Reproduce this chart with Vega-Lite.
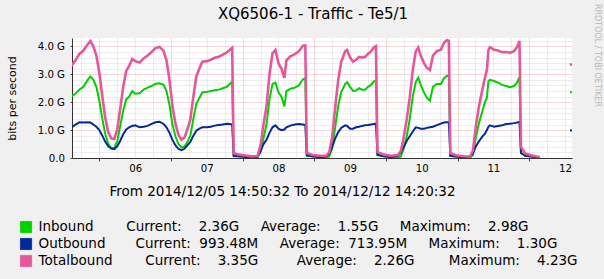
{
  "$schema": "https://vega.github.io/schema/vega-lite/v6.json",
  "width": 500,
  "height": 120,
  "autosize": {"type": "none"},
  "padding": {"left": 72, "top": 38, "right": 32, "bottom": 121},
  "background": "#f0f0f0",
  "config": {
    "font": "DejaVu Sans",
    "view": {"fill": "#ffffff", "stroke": null}
  },
  "title": {
    "text": "XQ6506-1 - Traffic - Te5/1",
    "font": "DejaVu Sans",
    "fontSize": 15,
    "fontWeight": "normal",
    "color": "#000000",
    "offset": -18.5,
    "dx": -9
  },
  "data": {
    "values": [
      {"hour": 14.833, "Inbound": 2.22, "Outbound": 1.10, "Totalbound": 3.33, "seg": "a"},
      {"hour": 16, "Inbound": 2.30, "Outbound": 1.20, "Totalbound": 3.50, "seg": "a"},
      {"hour": 17.333, "Inbound": 2.45, "Outbound": 1.28, "Totalbound": 3.73, "seg": "a"},
      {"hour": 18.667, "Inbound": 2.55, "Outbound": 1.27, "Totalbound": 3.85, "seg": "a"},
      {"hour": 20, "Inbound": 2.78, "Outbound": 1.28, "Totalbound": 4.06, "seg": "a"},
      {"hour": 21, "Inbound": 2.92, "Outbound": 1.27, "Totalbound": 4.19, "seg": "a"},
      {"hour": 22, "Inbound": 2.80, "Outbound": 1.20, "Totalbound": 4.00, "seg": "a"},
      {"hour": 23, "Inbound": 2.55, "Outbound": 1.12, "Totalbound": 3.67, "seg": "a"},
      {"hour": 24, "Inbound": 2.05, "Outbound": 1.00, "Totalbound": 3.05, "seg": "a"},
      {"hour": 25, "Inbound": 1.40, "Outbound": 0.80, "Totalbound": 2.20, "seg": "a"},
      {"hour": 26, "Inbound": 0.85, "Outbound": 0.58, "Totalbound": 1.43, "seg": "a"},
      {"hour": 27, "Inbound": 0.50, "Outbound": 0.42, "Totalbound": 0.92, "seg": "a"},
      {"hour": 28, "Inbound": 0.36, "Outbound": 0.34, "Totalbound": 0.70, "seg": "a"},
      {"hour": 29, "Inbound": 0.36, "Outbound": 0.32, "Totalbound": 0.68, "seg": "a"},
      {"hour": 30, "Inbound": 0.60, "Outbound": 0.42, "Totalbound": 1.02, "seg": "a"},
      {"hour": 31, "Inbound": 1.15, "Outbound": 0.62, "Totalbound": 1.77, "seg": "a"},
      {"hour": 32, "Inbound": 1.70, "Outbound": 0.85, "Totalbound": 2.55, "seg": "a"},
      {"hour": 33, "Inbound": 2.10, "Outbound": 1.02, "Totalbound": 3.12, "seg": "a"},
      {"hour": 34, "Inbound": 2.20, "Outbound": 1.10, "Totalbound": 3.30, "seg": "a"},
      {"hour": 35, "Inbound": 2.40, "Outbound": 1.15, "Totalbound": 3.55, "seg": "a"},
      {"hour": 36, "Inbound": 2.30, "Outbound": 1.17, "Totalbound": 3.47, "seg": "a"},
      {"hour": 37.5, "Inbound": 2.32, "Outbound": 1.10, "Totalbound": 3.42, "seg": "a"},
      {"hour": 38.833, "Inbound": 2.45, "Outbound": 1.12, "Totalbound": 3.57, "seg": "a"},
      {"hour": 40.167, "Inbound": 2.52, "Outbound": 1.15, "Totalbound": 3.67, "seg": "a"},
      {"hour": 41.5, "Inbound": 2.58, "Outbound": 1.22, "Totalbound": 3.80, "seg": "a"},
      {"hour": 42.833, "Inbound": 2.66, "Outbound": 1.28, "Totalbound": 3.94, "seg": "a"},
      {"hour": 44.167, "Inbound": 2.68, "Outbound": 1.30, "Totalbound": 3.98, "seg": "a"},
      {"hour": 45.5, "Inbound": 2.62, "Outbound": 1.22, "Totalbound": 3.84, "seg": "a"},
      {"hour": 46.5, "Inbound": 2.40, "Outbound": 1.10, "Totalbound": 3.50, "seg": "a"},
      {"hour": 47.5, "Inbound": 1.90, "Outbound": 0.90, "Totalbound": 2.80, "seg": "a"},
      {"hour": 48.5, "Inbound": 1.20, "Outbound": 0.65, "Totalbound": 1.85, "seg": "a"},
      {"hour": 49.5, "Inbound": 0.78, "Outbound": 0.45, "Totalbound": 1.23, "seg": "a"},
      {"hour": 50.5, "Inbound": 0.50, "Outbound": 0.33, "Totalbound": 0.83, "seg": "a"},
      {"hour": 51.5, "Inbound": 0.38, "Outbound": 0.28, "Totalbound": 0.66, "seg": "a"},
      {"hour": 52.5, "Inbound": 0.40, "Outbound": 0.33, "Totalbound": 0.73, "seg": "a"},
      {"hour": 53.5, "Inbound": 0.58, "Outbound": 0.45, "Totalbound": 1.03, "seg": "a"},
      {"hour": 54.5, "Inbound": 0.80, "Outbound": 0.58, "Totalbound": 1.38, "seg": "a"},
      {"hour": 55.5, "Inbound": 1.40, "Outbound": 0.80, "Totalbound": 2.20, "seg": "a"},
      {"hour": 56.5, "Inbound": 1.95, "Outbound": 0.98, "Totalbound": 2.93, "seg": "a"},
      {"hour": 57.5, "Inbound": 2.15, "Outbound": 1.05, "Totalbound": 3.20, "seg": "a"},
      {"hour": 58.5, "Inbound": 2.35, "Outbound": 1.10, "Totalbound": 3.45, "seg": "a"},
      {"hour": 60, "Inbound": 2.37, "Outbound": 1.10, "Totalbound": 3.47, "seg": "a"},
      {"hour": 61.333, "Inbound": 2.40, "Outbound": 1.12, "Totalbound": 3.52, "seg": "a"},
      {"hour": 62.667, "Inbound": 2.43, "Outbound": 1.16, "Totalbound": 3.59, "seg": "a"},
      {"hour": 64, "Inbound": 2.45, "Outbound": 1.18, "Totalbound": 3.63, "seg": "a"},
      {"hour": 65.333, "Inbound": 2.50, "Outbound": 1.20, "Totalbound": 3.70, "seg": "a"},
      {"hour": 66.667, "Inbound": 2.55, "Outbound": 1.23, "Totalbound": 3.78, "seg": "a"},
      {"hour": 67.667, "Inbound": 2.65, "Outbound": 1.22, "Totalbound": 3.87, "seg": "a"},
      {"hour": 68.5, "Inbound": 2.75, "Outbound": 1.20, "Totalbound": 3.95, "seg": "a"},
      {"hour": 69, "Inbound": 0.10, "Outbound": 0.07, "Totalbound": 0.17, "seg": "a"},
      {"hour": 71, "Inbound": 0.07, "Outbound": 0.05, "Totalbound": 0.12, "seg": "a"},
      {"hour": 73, "Inbound": 0.05, "Outbound": 0.04, "Totalbound": 0.09, "seg": "a"},
      {"hour": 75, "Inbound": 0.03, "Outbound": 0.03, "Totalbound": 0.06, "seg": "a"},
      {"hour": 77, "Inbound": 0.03, "Outbound": 0.04, "Totalbound": 0.07, "seg": "a"},
      {"hour": 78, "Inbound": 0.20, "Outbound": 0.25, "Totalbound": 0.45, "seg": "a"},
      {"hour": 79, "Inbound": 0.70, "Outbound": 0.50, "Totalbound": 1.20, "seg": "a"},
      {"hour": 80, "Inbound": 1.20, "Outbound": 0.65, "Totalbound": 1.85, "seg": "a"},
      {"hour": 81, "Inbound": 2.10, "Outbound": 0.90, "Totalbound": 3.00, "seg": "a"},
      {"hour": 82, "Inbound": 2.65, "Outbound": 1.10, "Totalbound": 3.75, "seg": "a"},
      {"hour": 83, "Inbound": 2.70, "Outbound": 1.17, "Totalbound": 3.87, "seg": "a"},
      {"hour": 84, "Inbound": 2.35, "Outbound": 1.05, "Totalbound": 3.40, "seg": "a"},
      {"hour": 85, "Inbound": 2.20, "Outbound": 1.00, "Totalbound": 3.20, "seg": "a"},
      {"hour": 86, "Inbound": 1.85, "Outbound": 1.02, "Totalbound": 2.87, "seg": "a"},
      {"hour": 86.667, "Inbound": 2.40, "Outbound": 1.10, "Totalbound": 3.50, "seg": "a"},
      {"hour": 88, "Inbound": 2.48, "Outbound": 1.16, "Totalbound": 3.64, "seg": "a"},
      {"hour": 89.5, "Inbound": 2.52, "Outbound": 1.20, "Totalbound": 3.72, "seg": "a"},
      {"hour": 90.833, "Inbound": 2.60, "Outbound": 1.22, "Totalbound": 3.82, "seg": "a"},
      {"hour": 92.167, "Inbound": 2.82, "Outbound": 1.20, "Totalbound": 4.02, "seg": "a"},
      {"hour": 93, "Inbound": 2.85, "Outbound": 1.18, "Totalbound": 4.03, "seg": "a"},
      {"hour": 93.5, "Inbound": 0.08, "Outbound": 0.10, "Totalbound": 0.18, "seg": "a"},
      {"hour": 95.5, "Inbound": 0.06, "Outbound": 0.05, "Totalbound": 0.11, "seg": "a"},
      {"hour": 98, "Inbound": 0.04, "Outbound": 0.04, "Totalbound": 0.08, "seg": "a"},
      {"hour": 100, "Inbound": 0.03, "Outbound": 0.05, "Totalbound": 0.08, "seg": "a"},
      {"hour": 101, "Inbound": 0.05, "Outbound": 0.15, "Totalbound": 0.20, "seg": "a"},
      {"hour": 102, "Inbound": 0.35, "Outbound": 0.40, "Totalbound": 0.75, "seg": "a"},
      {"hour": 103, "Inbound": 1.10, "Outbound": 0.70, "Totalbound": 1.80, "seg": "a"},
      {"hour": 104, "Inbound": 1.85, "Outbound": 0.92, "Totalbound": 2.77, "seg": "a"},
      {"hour": 105, "Inbound": 2.35, "Outbound": 1.08, "Totalbound": 3.43, "seg": "a"},
      {"hour": 106.333, "Inbound": 2.65, "Outbound": 1.17, "Totalbound": 3.82, "seg": "a"},
      {"hour": 107, "Inbound": 2.72, "Outbound": 1.15, "Totalbound": 3.87, "seg": "a"},
      {"hour": 108, "Inbound": 2.55, "Outbound": 1.05, "Totalbound": 3.60, "seg": "a"},
      {"hour": 109, "Inbound": 2.40, "Outbound": 1.05, "Totalbound": 3.45, "seg": "a"},
      {"hour": 110, "Inbound": 2.42, "Outbound": 1.10, "Totalbound": 3.52, "seg": "a"},
      {"hour": 111, "Inbound": 2.50, "Outbound": 1.12, "Totalbound": 3.62, "seg": "a"},
      {"hour": 112, "Inbound": 2.45, "Outbound": 1.15, "Totalbound": 3.60, "seg": "a"},
      {"hour": 113, "Inbound": 2.45, "Outbound": 1.17, "Totalbound": 3.62, "seg": "a"},
      {"hour": 114, "Inbound": 2.55, "Outbound": 1.18, "Totalbound": 3.73, "seg": "a"},
      {"hour": 115, "Inbound": 2.62, "Outbound": 1.20, "Totalbound": 3.82, "seg": "a"},
      {"hour": 116, "Inbound": 2.75, "Outbound": 1.22, "Totalbound": 3.97, "seg": "a"},
      {"hour": 116.667, "Inbound": 2.78, "Outbound": 1.23, "Totalbound": 4.01, "seg": "a"},
      {"hour": 117.167, "Inbound": 0.10, "Outbound": 0.12, "Totalbound": 0.22, "seg": "a"},
      {"hour": 119.333, "Inbound": 0.06, "Outbound": 0.06, "Totalbound": 0.12, "seg": "a"},
      {"hour": 121.667, "Inbound": 0.04, "Outbound": 0.04, "Totalbound": 0.08, "seg": "a"},
      {"hour": 124, "Inbound": 0.03, "Outbound": 0.08, "Totalbound": 0.11, "seg": "a"},
      {"hour": 125, "Inbound": 0.05, "Outbound": 0.20, "Totalbound": 0.25, "seg": "a"},
      {"hour": 126, "Inbound": 0.35, "Outbound": 0.40, "Totalbound": 0.75, "seg": "a"},
      {"hour": 127, "Inbound": 0.78, "Outbound": 0.62, "Totalbound": 1.40, "seg": "a"},
      {"hour": 128, "Inbound": 1.40, "Outbound": 0.78, "Totalbound": 2.18, "seg": "a"},
      {"hour": 129, "Inbound": 2.20, "Outbound": 0.95, "Totalbound": 3.15, "seg": "a"},
      {"hour": 130, "Inbound": 2.72, "Outbound": 1.10, "Totalbound": 3.82, "seg": "a"},
      {"hour": 130.833, "Inbound": 2.88, "Outbound": 1.08, "Totalbound": 3.96, "seg": "a"},
      {"hour": 131.667, "Inbound": 2.62, "Outbound": 1.05, "Totalbound": 3.67, "seg": "a"},
      {"hour": 132.75, "Inbound": 2.35, "Outbound": 1.05, "Totalbound": 3.40, "seg": "a"},
      {"hour": 133.75, "Inbound": 2.15, "Outbound": 1.08, "Totalbound": 3.23, "seg": "a"},
      {"hour": 134.75, "Inbound": 2.05, "Outbound": 1.10, "Totalbound": 3.15, "seg": "a"},
      {"hour": 135.75, "Inbound": 2.55, "Outbound": 1.12, "Totalbound": 3.67, "seg": "a"},
      {"hour": 137.083, "Inbound": 2.65, "Outbound": 1.18, "Totalbound": 3.83, "seg": "a"},
      {"hour": 138.417, "Inbound": 2.65, "Outbound": 1.23, "Totalbound": 3.88, "seg": "a"},
      {"hour": 139.417, "Inbound": 2.85, "Outbound": 1.27, "Totalbound": 4.12, "seg": "a"},
      {"hour": 140.5, "Inbound": 2.95, "Outbound": 1.28, "Totalbound": 4.23, "seg": "a"},
      {"hour": 141.083, "Inbound": 2.92, "Outbound": 1.28, "Totalbound": 4.20, "seg": "a"},
      {"hour": 141.583, "Inbound": 0.08, "Outbound": 0.08, "Totalbound": 0.17, "seg": "a"},
      {"hour": 143.5, "Inbound": 0.05, "Outbound": 0.05, "Totalbound": 0.10, "seg": "a"},
      {"hour": 145.833, "Inbound": 0.03, "Outbound": 0.03, "Totalbound": 0.06, "seg": "a"},
      {"hour": 148.167, "Inbound": 0.02, "Outbound": 0.03, "Totalbound": 0.05, "seg": "a"},
      {"hour": 149.167, "Inbound": 0.10, "Outbound": 0.17, "Totalbound": 0.27, "seg": "a"},
      {"hour": 150.167, "Inbound": 0.75, "Outbound": 0.42, "Totalbound": 1.17, "seg": "a"},
      {"hour": 151.167, "Inbound": 1.25, "Outbound": 0.60, "Totalbound": 1.85, "seg": "a"},
      {"hour": 152.167, "Inbound": 1.62, "Outbound": 0.75, "Totalbound": 2.37, "seg": "a"},
      {"hour": 153.167, "Inbound": 2.00, "Outbound": 0.87, "Totalbound": 2.87, "seg": "a"},
      {"hour": 153.833, "Inbound": 2.15, "Outbound": 1.00, "Totalbound": 3.15, "seg": "a"},
      {"hour": 154.333, "Inbound": 2.75, "Outbound": 1.12, "Totalbound": 3.87, "seg": "a"},
      {"hour": 154.833, "Inbound": 2.80, "Outbound": 1.17, "Totalbound": 3.97, "seg": "a"},
      {"hour": 156.25, "Inbound": 2.76, "Outbound": 1.12, "Totalbound": 3.88, "seg": "a"},
      {"hour": 157.583, "Inbound": 2.70, "Outbound": 1.15, "Totalbound": 3.85, "seg": "a"},
      {"hour": 158.917, "Inbound": 2.62, "Outbound": 1.17, "Totalbound": 3.79, "seg": "a"},
      {"hour": 160.25, "Inbound": 2.58, "Outbound": 1.22, "Totalbound": 3.80, "seg": "a"},
      {"hour": 161.583, "Inbound": 2.54, "Outbound": 1.23, "Totalbound": 3.77, "seg": "a"},
      {"hour": 162.917, "Inbound": 2.58, "Outbound": 1.25, "Totalbound": 3.83, "seg": "a"},
      {"hour": 163.917, "Inbound": 2.70, "Outbound": 1.27, "Totalbound": 3.97, "seg": "a"},
      {"hour": 164.75, "Inbound": 2.90, "Outbound": 1.29, "Totalbound": 4.19, "seg": "a"},
      {"hour": 165.25, "Inbound": 0.20, "Outbound": 0.18, "Totalbound": 0.40, "seg": "a"},
      {"hour": 166.667, "Inbound": 0.08, "Outbound": 0.08, "Totalbound": 0.16, "seg": "a"},
      {"hour": 168.667, "Inbound": 0.05, "Outbound": 0.05, "Totalbound": 0.10, "seg": "a"},
      {"hour": 171.167, "Inbound": 0.02, "Outbound": 0.02, "Totalbound": 0.04, "seg": "a"},
      {"hour": 182, "Inbound": 2.36, "Outbound": 0.99, "Totalbound": 3.35, "seg": "b"},
      {"hour": 182.333, "Inbound": 2.36, "Outbound": 0.99, "Totalbound": 3.35, "seg": "b"}
    ]
  },
  "transform": [{"fold": ["Inbound", "Outbound", "Totalbound"], "as": ["series", "value"]}],
  "encoding": {
    "x": {
      "field": "hour",
      "type": "quantitative",
      "scale": {"domain": [14.842, 182.342], "nice": false, "zero": false},
      "axis": {
        "title": "From 2014/12/05 14:50:32 To 2014/12/12 14:20:32",
        "titleFontSize": 13.5,
        "titleFontWeight": "normal",
        "titleColor": "#000000",
        "titleX": 210,
        "titleY": 37,
        "titleAlign": "center",
        "titleBaseline": "alphabetic",
        "values": [18, 24, 30, 36, 42, 48, 54, 60, 66, 72, 78, 84, 90, 96, 102, 108, 114, 120, 126, 132, 138, 144, 150, 156, 162, 168, 174, 180],
        "grid": true,
        "gridColor": {"condition": {"test": "datum.value % 24 == 0", "value": "#efb0b0"}, "value": "#dadada"},
        "gridDash": [1, 1],
        "tickSize": 3,
        "tickColor": {"condition": {"test": "datum.value % 24 == 0", "value": "#444444"}, "value": "transparent"},
        "labelExpr": "datum.value % 24 == 12 ? pad(floor(datum.value / 24) + 5, 2, '0', 'left') : ''",
        "labelFontSize": 10.2,
        "labelColor": "#000000",
        "labelFlush": false,
        "labelOverlap": false,
        "domainColor": "#333333"
      }
    },
    "color": {
      "field": "series",
      "type": "nominal",
      "scale": {"domain": ["Inbound", "Outbound", "Totalbound"], "range": ["#00cf00", "#002a97", "#e8569a"]},
      "legend": {
        "orient": "none",
        "legendX": -52.7,
        "legendY": 182.25,
        "title": null,
        "symbolType": "square",
        "symbolSize": 125,
        "labelFontSize": 13.5,
        "labelColor": "#000000",
        "labelOffset": 5.7,
        "labelLimit": 1000,
        "rowPadding": 2,
        "labelExpr": "datum.label == 'Inbound' ? 'Inbound\u00a0\u00a0\u00a0\u00a0\u00a0\u00a0\u00a0\u2009Current:\u00a0\u00a0\u00a0\u00a02.36G\u00a0\u00a0\u00a0\u00a0\u00a0Average:\u00a0\u00a0\u00a0\u00a01.55G\u00a0\u00a0\u00a0\u00a0\u00a0Maximum:\u00a0\u00a0\u00a0\u00a02.98G' : datum.label == 'Outbound' ? 'Outbound\u00a0\u00a0\u00a0\u00a0\u00a0\u00a0\u00a0Current:\u00a0\u00a0993.48M\u00a0\u00a0\u00a0\u00a0\u00a0Average:\u00a0\u00a0713.95M\u00a0\u00a0\u00a0\u00a0\u00a0Maximum:\u00a0\u00a0\u00a0\u00a01.30G' : 'Totalbound\u00a0\u00a0\u00a0\u00a0\u00a0\u00a0\u00a0\u2009Current:\u00a0\u00a0\u00a0\u00a03.35G\u00a0\u00a0\u00a0\u00a0\u00a0\u00a0\u00a0\u00a0\u00a0Average:\u00a0\u00a0\u00a0\u00a02.26G\u00a0\u00a0\u00a0\u00a0\u00a0\u00a0\u00a0\u00a0Maximum:\u00a0\u00a0\u00a0\u00a04.23G'",
        "encode": {
          "symbols": {
            "update": {
              "fill": {"scale": "color", "field": "value"},
              "fillOpacity": {"value": 1},
              "stroke": {"value": "#3a3a3a"},
              "strokeWidth": {"value": 0.8}
            }
          }
        }
      }
    },
    "detail": {"field": "seg", "type": "nominal"}
  },
  "layer": [
    {
      "encoding": {
        "y": {
          "field": "value",
          "type": "quantitative",
          "scale": {"domain": [0, 4.3], "nice": false},
          "axis": {
            "title": "bits per second",
            "titleFontSize": 11,
            "titleFontWeight": "normal",
            "titleColor": "#000000",
            "titleX": -60,
            "titleY": 60,
            "titleAngle": -90,
            "titleAlign": "center",
            "titleBaseline": "middle",
            "values": [0, 0.2, 0.4, 0.6, 0.8, 1, 1.2, 1.4, 1.6, 1.8, 2, 2.2, 2.4, 2.6, 2.8, 3, 3.2, 3.4, 3.6, 3.8, 4, 4.2],
            "grid": true,
            "gridColor": {"condition": {"test": "abs(datum.value - round(datum.value)) < 0.01", "value": "#efb0b0"}, "value": "#dadada"},
            "gridDash": [1, 1],
            "tickSize": 2,
            "tickColor": {"condition": {"test": "abs(datum.value - round(datum.value)) < 0.01", "value": "#444444"}, "value": "transparent"},
            "labelExpr": "abs(datum.value - round(datum.value)) < 0.01 ? (datum.value == 0 ? '0.0' : format(datum.value, '.1f') + ' G') : ''",
            "labelFontSize": 10.2,
            "labelColor": "#000000",
            "labelPadding": 5.5,
            "labelOverlap": false,
            "labelFlush": false,
            "domainColor": "#333333"
          }
        }
      },
      "layer": [
        {
          "transform": [{"filter": "datum.series != 'Totalbound'"}],
          "mark": {"type": "line", "strokeCap": "square", "strokeWidth": 2, "clip": true}
        },
        {
          "transform": [{"filter": "datum.series == 'Totalbound'"}],
          "mark": {"type": "line", "strokeCap": "square", "strokeWidth": 2.6, "clip": true}
        }
      ]
    },
    {
      "transform": [{"filter": "datum.seg == 'b' && datum.series == 'Inbound'"}],
      "mark": {"type": "point", "opacity": 0},
      "encoding": {
        "color": {"value": "transparent"},
        "detail": {"value": null},
        "y": {
          "field": "value",
          "type": "quantitative",
          "scale": {"domain": [0, 4.3], "nice": false},
          "axis": {
            "orient": "right",
            "labels": false,
            "ticks": false,
            "domain": false,
            "grid": false,
            "title": "RRDTOOL / TOBI OETIKER",
            "titleAngle": 90,
            "titleX": 24,
            "titleY": 17,
            "titleFontSize": 8,
            "titleFontWeight": "normal",
            "titleColor": "#b8b8b8",
            "titleAlign": "center",
            "titleBaseline": "middle"
          }
        }
      }
    }
  ],
  "resolve": {"axis": {"y": "independent"}}
}
